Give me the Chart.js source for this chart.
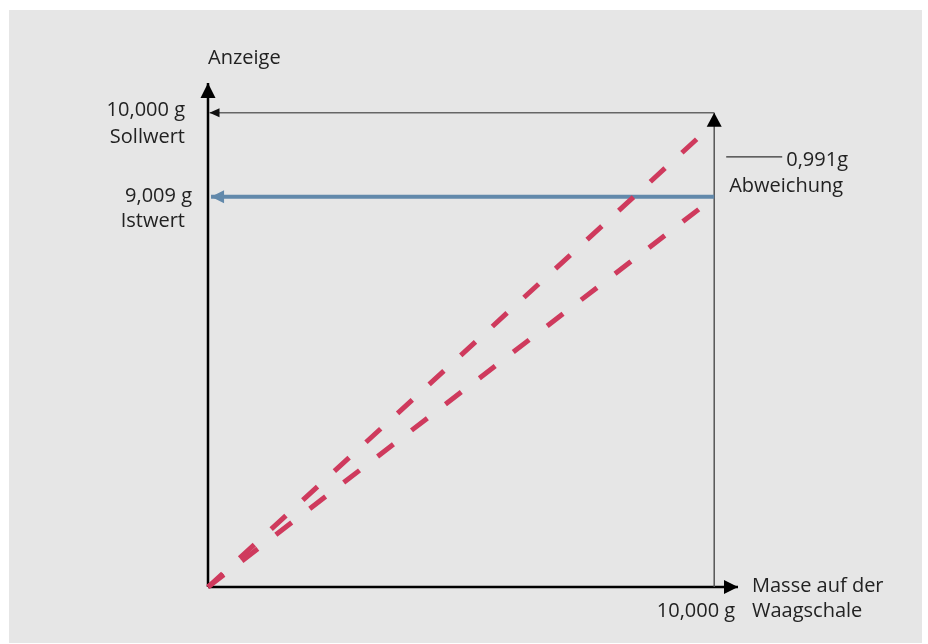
<!DOCTYPE html>
<html>
<head>
<meta charset="utf-8">
<script src="https://cdn.jsdelivr.net/npm/chart.js@4/dist/chart.umd.min.js"></script>
<style>
  html, body { margin: 0; padding: 0; background: #fff; }
  canvas { display: block; }
</style>
</head>
<body>
<canvas id="waageChart" width="928" height="644"></canvas>
<script>
// Masse auf der Waagschale (x) against Anzeige (y), schematic
const massX = [0, 9.66];
const sollY = [0, 9.45];      // ideal line
const istY = [0, 7.97];       // real line
const massIstEnd = [0, 9.7];

const sollLevel = 10;         // 10,000 g Sollwert
const istLevel = 8.23;        // 9,009 g Istwert (drawn position)
const xMax = 10.47;           // end of x axis arrow
const yMax = 10.63;           // end of y axis arrow

const yLabels = [["10,000 g", "Sollwert"], ["9,009 g", "Istwert"]];
const xLabel = ["Masse auf der", "Waagschale"];
const xTickLabel = "10,000 g";
const yTitle = "Anzeige";
const diffLabel = ["0,991g", "Abweichung"];

const RED = "#cf3a5d";
const BLUE = "#6289ab";

const pts = (xs, ys) => xs.map((x, i) => ({ x, y: ys[i] }));

// background panel + texts
const decoPlugin = {
    id: "deco",
    beforeDraw(chart) {
        const { ctx } = chart;
        ctx.save();
        ctx.fillStyle = "#e6e6e6";
        ctx.fillRect(9, 10, 913, 633);
        ctx.restore();
    },
    afterDraw(chart) {
        const { ctx, scales } = chart;
        const px = v => scales.x.getPixelForValue(v);
        const py = v => scales.y.getPixelForValue(v);
        const x0 = px(0), x10 = px(10), xEnd = px(xMax);
        const y0 = py(0), y10 = py(sollLevel), yIst = py(istLevel), yTop = py(yMax);

        ctx.save();
        ctx.fillStyle = "#222";
        ctx.font = '20px "Open Sans"';
        ctx.textBaseline = "alphabetic";

        ctx.textAlign = "left";
        ctx.fillText(yTitle, x0, yTop - 19);

        ctx.textAlign = "right";
        ctx.fillText(yLabels[0][0], x0 - 23, y10 + 3);
        ctx.fillText(yLabels[0][1], x0 - 23, y10 + 30);
        ctx.fillText(yLabels[1][0], x0 - 16, yIst + 5);
        ctx.fillText(yLabels[1][1], x0 - 23, yIst + 30);
        ctx.fillText(xTickLabel, x10 + 21, y0 + 30);

        ctx.textAlign = "left";
        ctx.fillText(xLabel[0], xEnd + 14, y0 + 5);
        ctx.fillText(xLabel[1], xEnd + 14, y0 + 30);

        const yd = (y10 + yIst) / 2 + 2;
        ctx.strokeStyle = "#333";
        ctx.lineWidth = 1.3;
        ctx.beginPath();
        ctx.moveTo(x10 + 12, yd);
        ctx.lineTo(x10 + 68, yd);
        ctx.stroke();
        ctx.fillText(diffLabel[0], x10 + 72, yd + 9);
        ctx.fillText(diffLabel[1], x10 + 15, yd + 35);
        ctx.restore();
    }
};

// arrowheads at the last point of datasets that ask for one
const arrowPlugin = {
    id: "arrows",
    afterDatasetsDraw(chart) {
        const { ctx } = chart;
        chart.data.datasets.forEach((ds, i) => {
            if (!ds.arrow) return;
            const p = chart.getDatasetMeta(i).data;
            const a = p[p.length - 2], b = p[p.length - 1];
            const ang = Math.atan2(b.y - a.y, b.x - a.x);
            const { len, half, color } = ds.arrow;
            ctx.save();
            ctx.translate(b.x, b.y);
            ctx.rotate(ang);
            ctx.fillStyle = color;
            ctx.beginPath();
            ctx.moveTo(0, 0);
            ctx.lineTo(-len, -half);
            ctx.lineTo(-len, half);
            ctx.closePath();
            ctx.fill();
            ctx.restore();
        });
    }
};

const base = { pointRadius: 0, fill: false, tension: 0, clip: false };

new Chart(document.getElementById("waageChart"), {
    type: "line",
    data: {
        datasets: [
            { ...base, data: pts(massX, sollY), borderColor: RED, borderWidth: 5,
              borderDash: [20, 22.85], borderCapStyle: "butt" },
            { ...base, data: pts(massIstEnd, istY), borderColor: RED, borderWidth: 5,
              borderDash: [20, 22.8], borderCapStyle: "butt" },
            { ...base, data: pts([10, 0.06], [istLevel, istLevel]), borderColor: BLUE,
              borderWidth: 4, arrow: { len: 13, half: 6.5, color: BLUE } },
            { ...base, data: pts([10, 0.03], [sollLevel, sollLevel]), borderColor: "#666",
              borderWidth: 1.5, arrow: { len: 10, half: 4.5, color: "#111" } },
            { ...base, data: pts([10, 10], [0, sollLevel]), borderColor: "#555",
              borderWidth: 1.5, arrow: { len: 14, half: 7.5, color: "#000" } },
            { ...base, data: pts([0, xMax], [0, 0]), borderColor: "#000",
              borderWidth: 2.5, arrow: { len: 14, half: 7, color: "#000" } },
            { ...base, data: pts([0, 0], [0, yMax]), borderColor: "#000",
              borderWidth: 2.5, arrow: { len: 15, half: 7.5, color: "#000" } }
        ]
    },
    options: {
        responsive: false,
        animation: false,
        events: [],
        layout: { padding: { left: 208, right: 190, top: 83, bottom: 57 } },
        scales: {
            x: { type: "linear", min: 0, max: xMax, display: false },
            y: { type: "linear", min: 0, max: yMax, display: false }
        },
        plugins: {
            legend: { display: false },
            tooltip: { enabled: false }
        }
    },
    plugins: [decoPlugin, arrowPlugin]
});
</script>
</body>
</html>
